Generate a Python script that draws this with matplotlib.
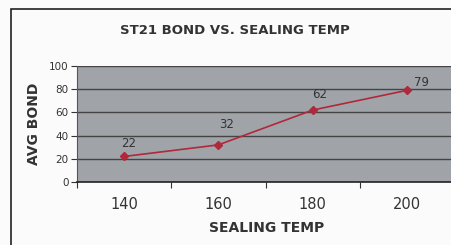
import matplotlib
matplotlib.use('Agg')
import matplotlib.pyplot as plt
from matplotlib.patches import Rectangle

temps = ['140', '160', '180', '200']
avg_bond = [22, 32, 62, 79]
y_ticks = [0, 20, 40, 60, 80, 100]

fig = plt.figure(figsize=(4.51, 2.45), dpi=100)
fig.patch.set_facecolor('#fbfbfb')

# chart frame (cut off on the right and bottom)
fig.patches.append(Rectangle((11 / 451, -0.1), 1.2, 1 - 9 / 245 + 0.1,
                             transform=fig.transFigure, fill=False,
                             edgecolor='#222222', linewidth=1.2))

ax = fig.add_axes([77 / 451, 1 - 182 / 245, 377 / 451, 116 / 245])
ax.set_facecolor('#a0a4a9')

x = list(range(len(temps)))
ax.plot(x, avg_bond, color='#b0283a', linewidth=1.2, marker='D', markersize=4,
        markeredgecolor='#b0283a', zorder=3)

# label offsets in points
offsets = [(3.6, 9.5), (5.8, 14.5), (5, 11.5), (10.8, 5.5)]
for xi, v, off in zip(x, avg_bond, offsets):
    ax.annotate(str(v), (xi, v), textcoords='offset points', xytext=off,
                ha='center', va='center', fontsize=8.5, color='#333333')

ax.set_xlim(-0.5, 3.5)
ax.set_ylim(0, 100)
ax.set_yticks(y_ticks)
ax.set_yticklabels([str(t) for t in y_ticks], fontsize=7.5, color='#333333')
ax.set_xticks([i + 0.5 for i in range(-1, 4)], minor=False)
ax.set_xticklabels([])
ax.set_xticks(x, minor=True)
ax.set_xticklabels(temps, minor=True, fontsize=10.5, color='#333333')
ax.tick_params(axis='x', which='minor', length=0, pad=11)
ax.tick_params(axis='x', which='major', length=4, color='#333333')
ax.tick_params(axis='y', length=4, color='#333333', pad=2)

ax.grid(axis='y', color='#444444', linewidth=1.0)
ax.set_axisbelow(True)
for s in ['top', 'right']:
    ax.spines[s].set_visible(False)
ax.spines['left'].set_color('#555555')
ax.spines['bottom'].set_color('#222222')
ax.spines['bottom'].set_linewidth(1.2)

fig.text(235 / 451, 1 - 30 / 245, 'ST21 BOND VS. SEALING TEMP', ha='center',
         va='center', fontsize=9.5, fontweight='bold', color='#333333')
fig.text(34 / 451, 1 - 124 / 245, 'AVG BOND', ha='center', va='center',
         rotation=90, fontsize=10, fontweight='bold', color='#333333')
fig.text(267 / 451, 1 - 228 / 245, 'SEALING TEMP', ha='center', va='center',
         fontsize=10, fontweight='bold', color='#333333')

fig.savefig('out.png', dpi=100, facecolor=fig.get_facecolor())
